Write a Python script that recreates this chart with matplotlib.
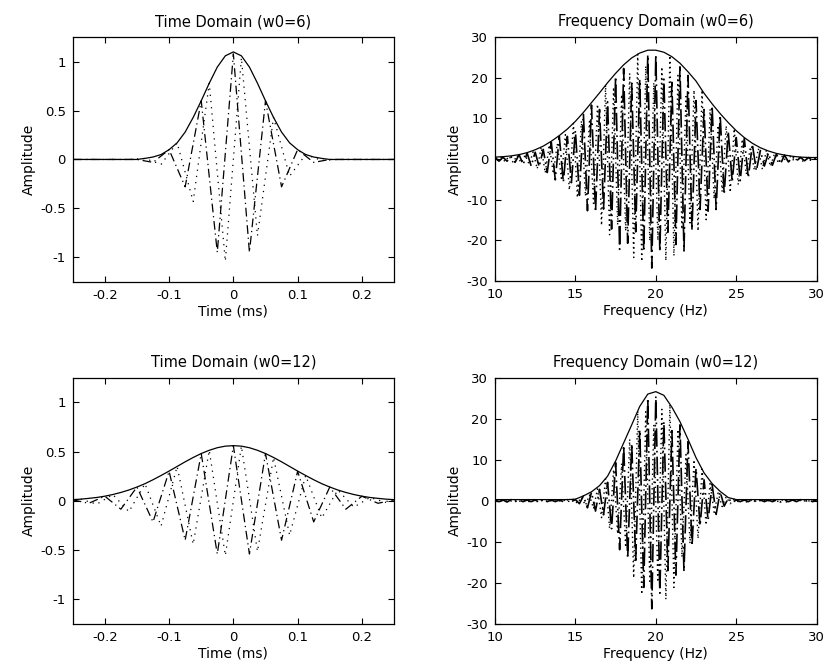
import numpy as np
import matplotlib
matplotlib.use("Agg")
import matplotlib.pyplot as plt

plt.rcParams["font.family"] = ["DejaVu Sans"]
plt.rcParams["axes.unicode_minus"] = False

# ---- time domain, w0=6 ----
env_t6 = [0, 0, 0, 0, 0, 0, 0, 0, 0, 0.011, 0.025, 0.05, 0.10, 0.17, 0.28, 0.43,
          0.60, 0.78, 0.945, 1.06, 1.10, 1.06, 0.945, 0.78, 0.60, 0.43, 0.28, 0.17,
          0.10, 0.05, 0.025, 0.011, 0, 0, 0, 0, 0, 0, 0, 0, 0]
re_t6 = [0, 0, 0, 0, 0, -0.03, 0.10, -0.28, 0.60, -0.95, 1.08, -0.95, 0.60, -0.28,
         0.10, -0.03, 0, 0, 0, 0, 0]
im_t6 = [0, 0, 0, 0, 0.01, -0.05, 0.17, -0.43, 0.78, -1.04, 1.04, -0.78, 0.43, -0.17,
         0.05, -0.01, 0, 0, 0, 0]

# ---- time domain, w0=12 ----
env_t12 = [0.012, 0.017, 0.025, 0.034, 0.047, 0.064, 0.085, 0.11, 0.14, 0.174, 0.214,
           0.257, 0.302, 0.349, 0.396, 0.44, 0.48, 0.513, 0.539, 0.555, 0.56, 0.555,
           0.539, 0.513, 0.48, 0.44, 0.396, 0.349, 0.302, 0.257, 0.214, 0.174, 0.14,
           0.11, 0.085, 0.064, 0.047, 0.034, 0.025, 0.017, 0.012]
re_t12 = [0.01, -0.025, 0.047, -0.085, 0.14, -0.214, 0.30, -0.40, 0.48, -0.54, 0.56,
          -0.54, 0.48, -0.40, 0.30, -0.214, 0.14, -0.085, 0.047, -0.025, 0.01]
im_t12 = [0.017, -0.034, 0.064, -0.11, 0.174, -0.257, 0.349, -0.44, 0.513, -0.555,
          0.555, -0.513, 0.44, -0.349, 0.257, -0.174, 0.11, -0.064, 0.034, -0.017]

# ---- frequency domain, w0=6 ----
env_f6 = [0.5, 0.6, 0.8, 1.1, 1.6, 2.3, 3.2, 4.4, 5.8, 7.4, 9.3, 11.5, 13.9, 16.3, 18.8,
          21.1, 23.2, 24.9, 26.1, 26.8, 26.8, 26.3, 25.2, 23.6, 21.5, 19.2, 16.2, 13.6,
          11.2, 9.0, 7.0, 5.3, 3.9, 2.8, 2.0, 1.4, 1.0, 0.7, 0.5, 0.4, 0.4]
re_f6 = [0.5, -0.5, 0.45, -0.5, 0.6, -0.8, 1.1, -1.35, 1.5, -1.7,
         1.7, -1.9, 2.4, -3.3, 4.2, -5.1, 5.6, -5.7, 5.6, -5.8,
         7.0, -8.9, 11.0, -12.7, 13.3, -13.0, 12.2, -12.3, 14.1, -17.2,
         20.3, -22.2, 22.3, -20.7, 18.7, -17.9, 19.6, -22.7, 25.7, -26.8,
         25.7, -22.8, 19.7, -18.0, 18.9, -21.0, 22.7, -22.6, 20.6, -17.5,
         14.4, -12.4, 12.2, -12.8, 13.1, -12.4, 10.8, -8.7, 6.8, -5.6,
         5.3, -5.3, 5.1, -4.6, 3.7, -2.9, 2.1, -1.7, 1.5, -1.5,
         1.3, -1.2, 1.0, -0.7, 0.5, -0.4, 0.4, -0.4, 0.4, -0.4,
         0.4]
im_f6 = [-0.4, 0.5, -0.6, 0.75, -0.8, 0.9, -0.9, 1.0, -1.3, 1.8,
         -2.4, 3.0, -3.4, 3.5, -3.6, 3.8, -4.7, 6.0, -7.6, 8.8,
         -9.5, 9.4, -9.1, 9.3, -10.9, 13.5, -16.3, 18.2, -18.6, 17.7,
         -16.2, 15.9, -17.7, 21.1, -24.2, 25.8, -25.2, 22.9, -20.1, 18.8,
         -20.0, 22.7, -25.0, 25.5, -23.8, 20.6, -17.3, 15.4, -15.7, 17.0,
         -17.7, 17.0, -14.9, 12.3, -9.8, 8.3, -8.0, 8.2, -8.2, 7.5,
         -6.3, 4.9, -3.7, 3.0, -2.7, 2.6, -2.5, 2.2, -1.8, 1.3,
         -1.0, 0.8, -0.7, 0.7, -0.6, 0.55, -0.5, 0.4, -0.3, 0.3]

# ---- frequency domain, w0=12 ----
env_f12 = [0.3, 0.3, 0.3, 0.3, 0.3, 0.3, 0.3, 0.3, 0.3, 0.3, 0.4, 1.2, 2.2, 3.7, 6.0, 9.7,
           14.1, 18.5, 23.0, 26.0, 26.6, 25.7, 22.8, 19.3, 15.0, 10.5, 6.8, 4.2, 2.3, 0.8,
           0.3, 0.3, 0.3, 0.3, 0.3, 0.3, 0.3, 0.3, 0.3, 0.3, 0.3]
re_f12 = [0.2, -0.2, 0.2, -0.3, 0.3, -0.2, 0.2, -0.2, 0.2, -0.2,
          0.2, -0.3, 0.3, -0.2, 0.2, -0.2, 0.2, -0.2, 0.3, -0.2,
          0.3, -0.7, 1.2, -1.7, 2.1, -2.5, 2.8, -3.4, 4.5, -6.8,
          9.3, -11.9, 13.5, -14.0, 13.9, -14.5, 17.3, -21.1, 25.0, -26.3,
          25.5, -22.5, 19.3, -17.0, 17.1, -18.1, 18.5, -17.2, 14.4, -11.0,
          7.9, -6.1, 5.1, -4.7, 4.0, -3.3, 2.2, -1.3, 0.6, -0.4,
          0.2, -0.2, 0.2, -0.2, 0.3, -0.3, 0.2, -0.2, 0.2, -0.2,
          0.2, -0.3, 0.2, -0.2, 0.2, -0.2, 0.3, -0.2, 0.2, -0.2,
          0.2]
im_f12 = [-0.2, 0.2, -0.2, 0.2, -0.3, 0.2, -0.2, 0.2, -0.2, 0.3,
          -0.2, 0.2, -0.2, 0.2, -0.3, 0.2, -0.2, 0.2, -0.2, 0.35,
          -0.6, 0.9, -1.1, 1.4, -1.9, 2.9, -4.1, 5.4, -6.7, 7.6,
          -8.1, 9.1, -11.4, 15.0, -18.8, 21.9, -22.8, 21.7, -19.6, 18.5,
          -19.8, 22.3, -24.0, 23.5, -21.1, 17.4, -13.7, 11.3, -10.4, 10.0,
          -9.2, 7.7, -5.9, 4.2, -2.8, 1.9, -1.4, 1.0, -0.7, 0.4,
          -0.2, 0.2, -0.3, 0.2, -0.2, 0.2, -0.2, 0.3, -0.2, 0.2,
          -0.2, 0.2, -0.3, 0.2, -0.2, 0.2, -0.2, 0.2, -0.2, 0.2]

# sample grids
t_env = np.linspace(-0.25, 0.25, 41)
t_re = np.linspace(-0.25, 0.25, 21)
t_im = np.linspace(-0.2375, 0.2375, 20)
f_env = np.linspace(10, 30, 41)
f_re = np.linspace(10, 30, 81)
f_im = np.linspace(10.125, 29.875, 80)

# ticks
t_ticks = [-0.2, -0.1, 0, 0.1, 0.2]
t_ticklabels = ["-0.2", "-0.1", "0", "0.1", "0.2"]
amp_ticks = [-1, -0.5, 0, 0.5, 1]
amp_ticklabels = ["-1", "-0.5", "0", "0.5", "1"]
f_ticks = [10, 15, 20, 25, 30]
f_ticklabels = ["10", "15", "20", "25", "30"]
famp_ticks = [-30, -20, -10, 0, 10, 20, 30]
famp_ticklabels = ["-30", "-20", "-10", "0", "10", "20", "30"]


def draw_panel(ax, x_env, env, x_re, re, x_im, im, title, xlabel,
               xlim, ylim, xticks, xticklabels, yticks, yticklabels, dense=False):
    if dense:
        # the spectra are packed with near-vertical strokes
        ax.plot(x_re, re, color="black", linewidth=1.2, linestyle=(0, (11, 2.5, 1, 2.5)))
        ax.plot(x_im, im, color="black", linewidth=1.0, linestyle=(0, (1, 2.5)))
    else:
        ax.plot(x_re, re, color="black", linewidth=0.9, linestyle=(0, (7, 3, 1, 3)))
        ax.plot(x_im, im, color="black", linewidth=0.9, linestyle=(0, (1, 4)))
    ax.plot(x_env, env, color="black", linewidth=0.9)

    ax.set_xlim(*xlim)
    ax.set_ylim(*ylim)
    ax.set_xticks(xticks)
    ax.set_xticklabels(xticklabels)
    ax.set_yticks(yticks)
    ax.set_yticklabels(yticklabels)
    ax.tick_params(direction="in", length=4, width=0.8, top=True, right=True,
                   labelsize=9.5, pad=5, colors="black")
    for spine in ax.spines.values():
        spine.set_linewidth(0.9)
        spine.set_color("black")

    ax.set_title(title, fontsize=10.5, pad=8)
    ax.set_xlabel(xlabel, fontsize=10, labelpad=2)
    ax.set_ylabel("Amplitude", fontsize=10, labelpad=3)


fig = plt.figure(figsize=(8.24, 6.7), dpi=100)

ax1 = fig.add_axes([0.0882, 0.5796, 0.39, 0.3648])
ax2 = fig.add_axes([0.6007, 0.5805, 0.3904, 0.364])
ax3 = fig.add_axes([0.0882, 0.0687, 0.39, 0.3676])
ax4 = fig.add_axes([0.6007, 0.0687, 0.3904, 0.3676])

draw_panel(ax1, t_env, env_t6, t_re, re_t6, t_im, im_t6,
           "Time Domain (w0=6)", "Time (ms)", (-0.25, 0.25), (-1.25, 1.25),
           t_ticks, t_ticklabels, amp_ticks, amp_ticklabels)
draw_panel(ax2, f_env, env_f6, f_re, re_f6, f_im, im_f6,
           "Frequency Domain (w0=6)", "Frequency (Hz)", (10, 30), (-30, 30),
           f_ticks, f_ticklabels, famp_ticks, famp_ticklabels, dense=True)
draw_panel(ax3, t_env, env_t12, t_re, re_t12, t_im, im_t12,
           "Time Domain (w0=12)", "Time (ms)", (-0.25, 0.25), (-1.25, 1.25),
           t_ticks, t_ticklabels, amp_ticks, amp_ticklabels)
draw_panel(ax4, f_env, env_f12, f_re, re_f12, f_im, im_f12,
           "Frequency Domain (w0=12)", "Frequency (Hz)", (10, 30), (-30, 30),
           f_ticks, f_ticklabels, famp_ticks, famp_ticklabels, dense=True)

fig.savefig("out.png", dpi=100, facecolor="white")
plt.close(fig)
